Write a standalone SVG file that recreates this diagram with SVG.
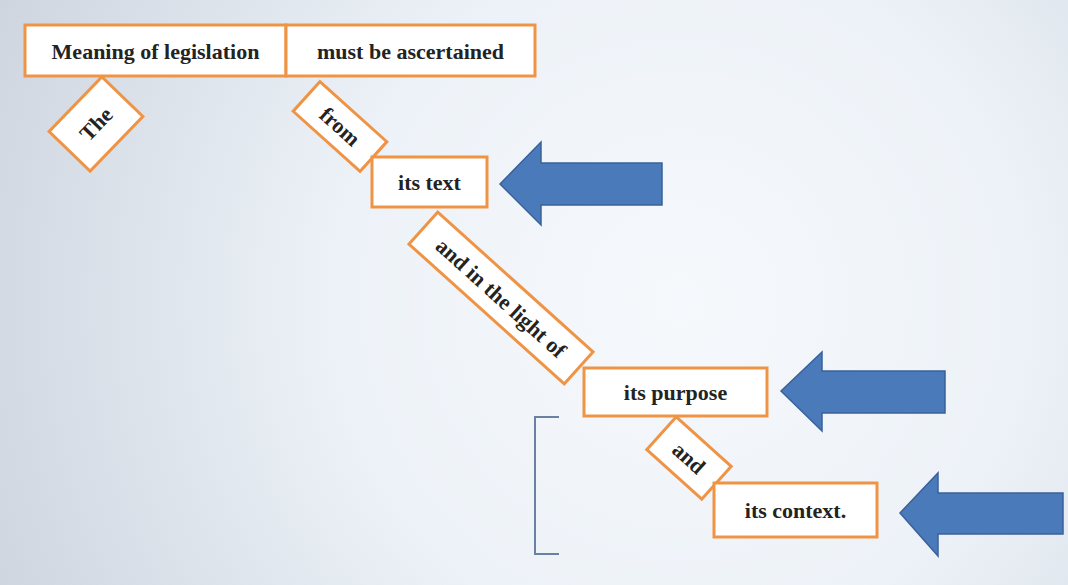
<svg xmlns="http://www.w3.org/2000/svg" width="1068" height="585" viewBox="0 0 1068 585">
  <defs>
    <radialGradient id="bg" cx="680" cy="300" r="760" gradientUnits="userSpaceOnUse">
      <stop offset="0" stop-color="#f6f9fc"/>
      <stop offset="0.45" stop-color="#edf2f8"/>
      <stop offset="1" stop-color="#cdd4de"/>
    </radialGradient>
    <style>
      .box { fill: #ffffff; stroke: #ef9445; stroke-width: 3; }
      .lbl { font-family: "Liberation Serif", "Times New Roman", serif; font-weight: bold; font-size: 22px; fill: #232323; text-anchor: middle; dominant-baseline: central; }
      .arrow { fill: #4a7aba; stroke: #3a6299; stroke-width: 1.5; stroke-linejoin: miter; }
      .bracket { fill: none; stroke: #6b80a2; stroke-width: 2; }
    </style>
  </defs>
  <rect x="0" y="0" width="1068" height="585" fill="url(#bg)"/>

  <g id="node-meaning">
    <rect class="box" x="25" y="25" width="261" height="51"/>
    <text class="lbl" x="155.5" y="51">Meaning of legislation</text>
  </g>
  <g id="node-ascertained">
    <rect class="box" x="286" y="25" width="249" height="51"/>
    <text class="lbl" x="410.5" y="51">must be ascertained</text>
  </g>
  <g id="node-the" transform="translate(96,124) rotate(-46)">
    <rect class="box" x="-38" y="-28.5" width="76" height="57"/>
    <text class="lbl" x="0" y="0">The</text>
  </g>
  <g id="node-from" transform="translate(340,126.5) rotate(42)">
    <rect class="box" x="-45" y="-20" width="90" height="40"/>
    <text class="lbl" x="0" y="0">from</text>
  </g>
  <g id="node-its-text">
    <rect class="box" x="372" y="157" width="115" height="50"/>
    <text class="lbl" x="429.5" y="182">its text</text>
  </g>
  <g id="node-light" transform="translate(501,298) rotate(42)">
    <rect class="box" x="-104.5" y="-21.5" width="209" height="43"/>
    <text class="lbl" x="0" y="0">and in the light of</text>
  </g>
  <g id="node-purpose">
    <rect class="box" x="584" y="368" width="183" height="48"/>
    <text class="lbl" x="675.5" y="392">its purpose</text>
  </g>
  <g id="node-and" transform="translate(689,458) rotate(42)">
    <rect class="box" x="-37" y="-22" width="74" height="44"/>
    <text class="lbl" x="0" y="0">and</text>
  </g>
  <g id="node-context">
    <rect class="box" x="714" y="483" width="163" height="54"/>
    <text class="lbl" x="795.5" y="510">its context.</text>
  </g>

  <g id="arrows">
    <polygon class="arrow" points="500,184 541,142 541,163 662,163 662,205 541,205 541,225"/>
    <polygon class="arrow" points="781,391 822,352 822,371 945,371 945,413 822,413 822,431"/>
    <polygon class="arrow" points="900,513 938,473 938,493 1063,493 1063,534 938,534 938,556"/>
  </g>

  <g id="bracket">
    <polyline class="bracket" points="559,417 535,417 535,554 559,554"/>
  </g>
</svg>
